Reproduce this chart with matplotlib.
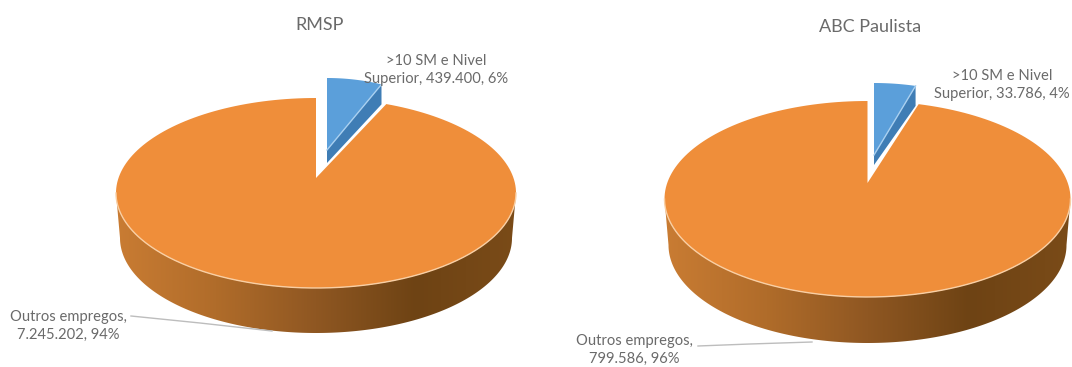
import numpy as np
import matplotlib
matplotlib.use("Agg")
import matplotlib.pyplot as plt
from matplotlib.patches import Polygon
from matplotlib.colors import LinearSegmentedColormap

titles = ["RMSP", "ABC Paulista"]
highlight_values = [439400, 33786]
other_values = [7245202, 799586]
highlight_labels = [">10 SM e Nivel\nSuperior, 439.400, 6%", ">10 SM e Nivel\nSuperior, 33.786, 4%"]
other_labels = ["Outros empregos,\n7.245.202, 94%", "Outros empregos,\n799.586, 96%"]

plt.rcParams['font.family'] = ['Lato', 'DejaVu Sans']
ORANGE = '#EF8E3A'
BLUE = '#5B9FDA'
BLUE_DARK = '#3F7DB5'
TEXT = '#6A6A6A'
side_cmap = LinearSegmentedColormap.from_list('side', ['#C97C33', '#B06C2A', '#8F5722', '#6E4314', '#7A4B18'])

layouts = [
    dict(cx=316, cy=193, rx=200, ry=95, apex_y=178, depth=45,
         b_ax=327, b_ay=150, b_rx=155, b_ry=100, b_top=78, b_tip=13, b_end=20,
         title_xy=(320, 25), hl_xy=(436, 70), other_xy=(68, 326),
         leader=[(131, 316), (200, 323), (272, 331)]),
    dict(cx=867.5, cy=199, rx=203, ry=98, apex_y=183, depth=46,
         b_ax=874, b_ay=155, b_rx=165, b_ry=90, b_top=83, b_tip=10, b_end=20,
         title_xy=(870, 27), hl_xy=(1002, 85), other_xy=(634, 350),
         leader=[(698, 346), (750, 344), (812, 342)]),
]

fig = plt.figure(figsize=(10.72, 3.67), dpi=100, facecolor='white')
ax = fig.add_axes([0, 0, 1, 1])
ax.set_xlim(0, 1072)
ax.set_ylim(367, 0)
ax.axis('off')


def arc(cx, cy, rx, ry, a0, a1, n=200):
    t = np.radians(np.linspace(a0, a1, n))
    return np.column_stack([cx + rx * np.sin(t), cy - ry * np.cos(t)])


grad = np.linspace(0, 1, 256).reshape(1, -1)
for i, L in enumerate(layouts):
    share = highlight_values[i] / (highlight_values[i] + other_values[i])
    sweep = share * 360
    cx, cy, rx, ry, d = L['cx'], L['cy'], L['rx'], L['ry'], L['depth']

    # exploded highlighted slice
    bcy = L['b_top'] + L['b_ry']
    barc = arc(L['b_ax'], bcy, L['b_rx'], L['b_ry'], 0, sweep)
    apex_b = np.array([L['b_ax'], L['b_ay']])
    end = barc[-1]
    ax.add_patch(Polygon([apex_b, end, end + [0, L['b_end']], apex_b + [0, L['b_tip']]],
                         closed=True, fc=BLUE_DARK, ec='none', zorder=2))
    ax.add_patch(Polygon(np.vstack([apex_b, barc]), closed=True, fc=BLUE, ec='none', zorder=3))
    ax.plot([apex_b[0], end[0]], [apex_b[1], end[1]], color='#A9D0F0', lw=1.0, zorder=4)

    # side wall of the large slice (slightly inset at the bottom)
    front = arc(cx, cy, rx, ry, 90, 270)
    lower = arc(cx, cy + d, rx - 4, ry, 90, 270)
    side = np.vstack([front, lower[::-1]])
    poly = Polygon(side, closed=True, fc='none', ec='none', transform=ax.transData)
    ax.add_patch(poly)
    im = ax.imshow(grad, cmap=side_cmap, extent=[cx - rx, cx + rx, cy + ry + d, cy], aspect='auto', zorder=2)
    im.set_clip_path(poly)

    # top surface of the large slice
    top = arc(cx, cy, rx, ry, sweep, 360)
    ax.add_patch(Polygon(np.vstack([[cx, L['apex_y']], top]), closed=True, fc=ORANGE, ec='none', zorder=5))
    ax.plot(front[:, 0], front[:, 1], color='#F9CFA4', lw=1.0, zorder=6)

    # texts
    ax.text(*L['title_xy'], titles[i], ha='center', va='center', fontsize=13, color=TEXT, zorder=8)
    ax.text(*L['hl_xy'], highlight_labels[i], ha='center', va='center', fontsize=10.6,
            color=TEXT, linespacing=1.4, zorder=8)
    ax.text(*L['other_xy'], other_labels[i], ha='center', va='center', fontsize=10.6,
            color=TEXT, linespacing=1.4, zorder=8)
    lx, ly = zip(*L['leader'])
    ax.plot(lx, ly, color='#BDBDBD', lw=1.0, zorder=7)

ax.set_xlim(0, 1072)
ax.set_ylim(367, 0)
fig.savefig('out.png', dpi=100, facecolor='white')
